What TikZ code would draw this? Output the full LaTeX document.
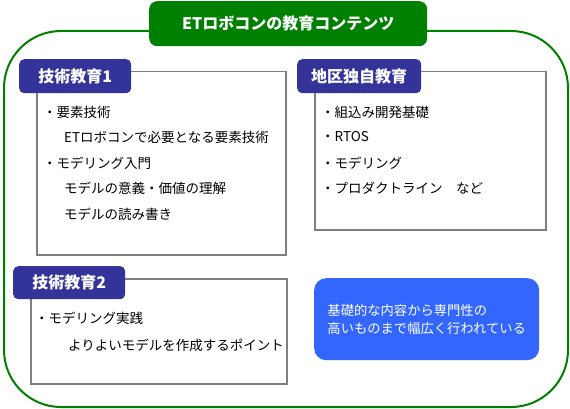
\documentclass[tikz,border=0pt]{standalone}
\usepackage{fontspec}
\setmainfont{Noto Sans CJK JP}
\definecolor{titlegreen}{RGB}{0,128,0}
\definecolor{tabblue}{RGB}{51,51,153}
\definecolor{noteblue}{RGB}{51,102,255}
\definecolor{framegray}{RGB}{128,128,128}

\begin{document}
\begin{tikzpicture}[x=1pt, y=-1pt]
        \tikzstyle{frame} = [rectangle, draw=framegray, line width=1.5pt, fill=white, anchor=north west, inner sep=0pt]
        \tikzstyle{tab} = [rectangle, fill=tabblue, text=white, rounded corners=5pt, anchor=north west, inner sep=0pt, minimum height=34pt, font=\fontsize{16}{18}\selectfont\bfseries]
        \tikzstyle{item} = [anchor=west, inner sep=0pt, font=\fontsize{13.5}{16}\selectfont]
        
        \useasboundingbox (0,0) rectangle (570,409);
        
        % outer frame and title
        \node [rectangle, draw=titlegreen, line width=2pt, rounded corners=57pt, anchor=north west, inner sep=0pt, minimum width=564pt, minimum height=376pt] (contents) at (3,30) {};
        \node [rectangle, fill=titlegreen, text=white, rounded corners=8pt, anchor=north west, inner sep=0pt, minimum width=278pt, minimum height=45pt, font=\fontsize{16}{18}\selectfont\bfseries] (title) at (149,1) {ETロボコンの教育コンテンツ};
        
        % technique education 1
        \node [frame, minimum width=249pt, minimum height=183pt] (tech1) at (36,71) {};
        \node [tab, minimum width=112pt] (tech1tab) at (19,59) {技術教育1};
        \node [item] (tech1a) at (43,112) {・要素技術};
        \node [item] (tech1b) at (64,137) {ETロボコンで必要となる要素技術};
        \node [item] (tech1c) at (43,163) {・モデリング入門};
        \node [item] (tech1d) at (64,188) {モデルの意義・価値の理解};
        \node [item] (tech1e) at (64,214) {モデルの読み書き};
        
        % regional education
        \node [frame, minimum width=231pt, minimum height=158pt] (region) at (314,71) {};
        \node [tab, minimum width=124pt] (regiontab) at (297,59) {地区独自教育};
        \node [item] (regiona) at (321,112) {・組込み開発基礎};
        \node [item] (regionb) at (321,137) {・RTOS};
        \node [item] (regionc) at (321,163) {・モデリング};
        \node [item] (regiond) at (321,188) {・プロダクトライン　など};
        
        % technique education 2
        \node [frame, minimum width=256pt, minimum height=105pt] (tech2) at (30,278) {};
        \node [tab, minimum width=112pt, minimum height=33pt] (tech2tab) at (13,266) {技術教育2};
        \node [item] (tech2a) at (35,318) {・モデリング実践};
        \node [item] (tech2b) at (68,345) {よりよいモデルを作成するポイント};
        
        % summary
        \node [rectangle, fill=noteblue, text=white, rounded corners=12pt, anchor=north west, inner sep=0pt, minimum width=225pt, minimum height=82pt, align=left, font=\fontsize{13.3}{18}\selectfont] (summary) at (314,278) {基礎的な内容から専門性の\\高いものまで幅広く行われている};
    \end{tikzpicture}
\end{document}
